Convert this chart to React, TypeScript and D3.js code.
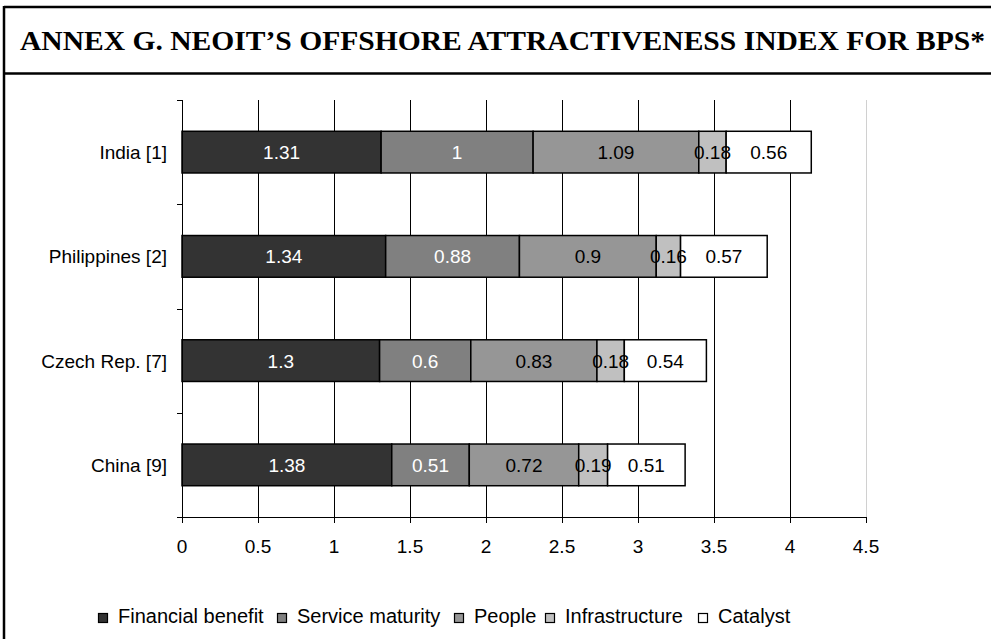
import React from "react";
import * as d3 from "d3";

const categories = ["India [1]", "Philippines [2]", "Czech Rep. [7]", "China [9]"];
const seriesNames = ["Financial benefit", "Service maturity", "People", "Infrastructure", "Catalyst"];
const financialBenefit = [1.31, 1.34, 1.3, 1.38];
const serviceMaturity = [1, 0.88, 0.6, 0.51];
const people = [1.09, 0.9, 0.83, 0.72];
const infrastructure = [0.18, 0.16, 0.18, 0.19];
const catalyst = [0.56, 0.57, 0.54, 0.51];
const xTicks = [0, 0.5, 1, 1.5, 2, 2.5, 3, 3.5, 4, 4.5];
const title = "ANNEX G.  NEOIT\u2019S OFFSHORE ATTRACTIVENESS INDEX FOR BPS*";

const colors = ["#333333", "#808080", "#969696", "#C0C0C0", "#FFFFFF"];
const labelColors = ["#FFFFFF", "#FFFFFF", "#000000", "#000000", "#000000"];
const legendX = [98, 277, 454, 545, 698];

export default function App() {
  const W = 991, H = 639;
  const left = 182, right = 866, top = 100, bottom = 517;
  const x = d3.scaleLinear().domain([0, 4.5]).range([left, right]);
  const y = d3.scaleBand<string>().domain(categories).range([top, bottom]).paddingInner(0.6).paddingOuter(0.3);
  const band = (bottom - top) / categories.length;
  const series = [financialBenefit, serviceMaturity, people, infrastructure, catalyst];
  const rows = categories.map((c, i) => {
    const obj: any = { cat: c };
    seriesNames.forEach((s, k) => (obj[s] = series[k][i]));
    return obj;
  });
  const stacked = d3.stack<any>().keys(seriesNames)(rows);
  const font = "'Liberation Sans', Arial, sans-serif";

  return (
    <svg width={W} height={H} style={{ position: "absolute", left: 0, top: 0 }}>
      <rect x={0} y={0} width={W} height={H} fill="#fff" />
      {/* frame */}
      <line x1={4} x2={4} y1={6} y2={H} stroke="#000" strokeWidth={2.5} />
      <line x1={4} x2={W} y1={7} y2={7} stroke="#000" strokeWidth={2.5} />
      <line x1={4} x2={W} y1={73.5} y2={73.5} stroke="#000" strokeWidth={2.5} />
      <text x={20} y={50} fontFamily="'Liberation Serif', 'Times New Roman', serif" fontWeight="bold" fontSize={28}
        textLength={965} lengthAdjust="spacingAndGlyphs">{title}</text>

      {/* gridlines */}
      {xTicks.slice(1).map((t, i) => (
        <line key={"g" + i} x1={Math.round(x(t)) + 0.5} x2={Math.round(x(t)) + 0.5} y1={top} y2={bottom}
          stroke={t === 4.5 ? "#d0d0d0" : "#000"} strokeWidth={1} />
      ))}

      {/* bars */}
      {stacked.map((s, k) => (
        <g key={"s" + k}>
          {s.map((d, i) => {
            const x0 = x(d[0]), x1 = x(d[1]);
            const yy = y(categories[i])!;
            return (
              <rect key={i} x={x0} y={yy} width={x1 - x0} height={y.bandwidth()} fill={colors[k]} stroke="#000" strokeWidth={1.5} />
            );
          })}
        </g>
      ))}
      {/* data labels */}
      {stacked.map((s, k) => (
        <g key={"lab" + k}>
          {s.map((d, i) => {
            const x0 = x(d[0]), x1 = x(d[1]);
            const yy = y(categories[i])!;
            return (
              <text key={i} x={(x0 + x1) / 2} y={yy + y.bandwidth() / 2 + 7} textAnchor="middle" fontFamily={font}
                fontSize={19} fill={labelColors[k]}>{String(series[k][i])}</text>
            );
          })}
        </g>
      ))}

      {/* y axis */}
      <line x1={left + 0.5} x2={left + 0.5} y1={top} y2={bottom} stroke="#000" strokeWidth={1} />
      {d3.range(categories.length + 1).map((i) => (
        <line key={"yt" + i} x1={left - 5} x2={left} y1={Math.round(top + i * band) + 0.5} y2={Math.round(top + i * band) + 0.5}
          stroke="#000" strokeWidth={1} />
      ))}
      {categories.map((c) => (
        <text key={c} x={167} y={y(c)! + y.bandwidth() / 2 + 7} textAnchor="end" fontFamily={font} fontSize={19}>{c}</text>
      ))}

      {/* x axis */}
      <line x1={left - 5} x2={right} y1={bottom + 0.5} y2={bottom + 0.5} stroke="#000" strokeWidth={1} />
      {xTicks.map((t, i) => (
        <g key={"xt" + i}>
          <line x1={Math.round(x(t)) + 0.5} x2={Math.round(x(t)) + 0.5} y1={bottom} y2={bottom + 6} stroke="#000" strokeWidth={1} />
          <text x={x(t)} y={553} textAnchor="middle" fontFamily={font} fontSize={19}>{String(t)}</text>
        </g>
      ))}

      {/* legend */}
      {seriesNames.map((s, k) => (
        <g key={"l" + k}>
          <rect x={legendX[k] + 0.5} y={613.5} width={9} height={9} fill={colors[k]} stroke="#000" strokeWidth={1.2} />
          <text x={legendX[k] + 20} y={623} fontFamily={font} fontSize={20}>{s}</text>
        </g>
      ))}
    </svg>
  );
}
